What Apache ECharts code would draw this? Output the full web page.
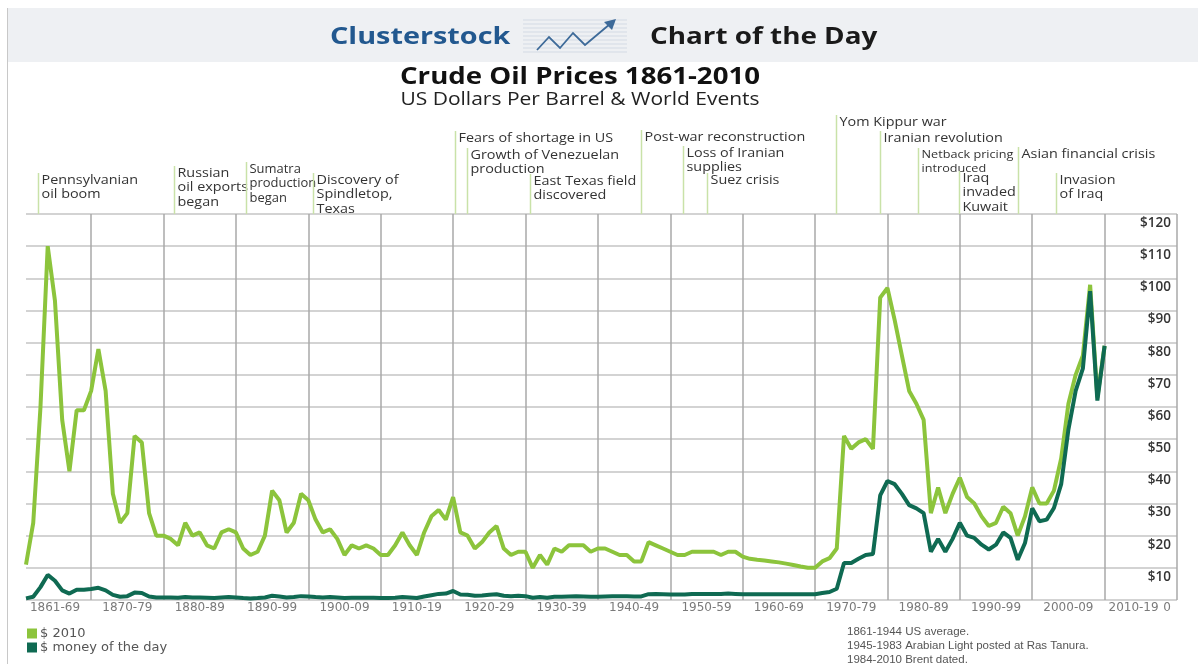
<!DOCTYPE html>
<html lang="en">
<head>
<meta charset="UTF-8">
<title>Crude Oil Prices 1861-2010</title>
<script src="https://cdn.jsdelivr.net/npm/echarts@6/dist/echarts.min.js"></script>
<style>
    html, body { margin: 0; padding: 0; background: #fff; }
    #main { width: 1198px; height: 664px; }
</style>
</head>
<body>
<div id="main"></div>
<script>
    // yearly prices, US$ per barrel, 1861..2010
    var firstYear = 1861;
    var axisEndYear = 2020;
    var price2010 = [
        11, 24, 60, 110, 93, 56, 40, 59, 59,
        65, 78, 65, 33, 24, 27, 51, 49, 27, 20,
        20, 19, 17, 24, 20, 21, 17, 16, 21, 22,
        21, 16, 14, 15, 20, 34, 31, 21, 24, 33,
        31, 25, 21, 22, 19, 14, 17, 16, 17, 16,
        14, 14, 17, 21, 17, 14, 21, 26, 28, 25,
        32, 21, 20, 16, 18, 21, 23, 16, 14, 15,
        15, 10, 14, 11, 16, 15, 17, 17, 17, 15,
        16, 16, 15, 14, 14, 12, 12, 18, 17, 16,
        15, 14, 14, 15, 15, 15, 15, 14, 15, 15,
        13.5, 12.8, 12.5, 12.3, 12, 11.7, 11.3, 10.9, 10.4, 10,
        10, 12, 13, 16, 51, 47, 49, 50, 47, 94,
        97, 87, 76, 65, 61, 56, 27, 35, 27, 33,
        38, 32, 30, 26, 23, 24, 29, 27, 20, 26,
        35, 30, 30, 34, 44, 61, 70, 76, 98, 63,
        79
    ];
    var priceNominal = [
        0.5, 1, 4, 7.8, 6, 3, 2, 3.2, 3.2,
        3.4, 3.8, 3, 1.6, 1, 1.2, 2.3, 2.2, 1.1, 0.8,
        0.8, 0.8, 0.7, 0.9, 0.8, 0.8, 0.7, 0.6, 0.8, 0.9,
        0.8, 0.6, 0.5, 0.6, 0.8, 1.3, 1.1, 0.8, 0.9, 1.2,
        1.1, 0.9, 0.8, 0.9, 0.8, 0.6, 0.7, 0.7, 0.7, 0.7,
        0.6, 0.6, 0.7, 0.9, 0.8, 0.6, 1.1, 1.5, 1.9, 2,
        2.8, 1.7, 1.6, 1.3, 1.4, 1.6, 1.8, 1.3, 1.2, 1.3,
        1.2, 0.7, 0.9, 0.7, 1, 1, 1.1, 1.2, 1.1, 1,
        1, 1.1, 1.2, 1.2, 1.2, 1.1, 1.1, 1.8, 1.9, 1.8,
        1.7, 1.7, 1.7, 1.9, 1.9, 1.9, 1.9, 1.9, 2, 1.9,
        1.8, 1.8, 1.8, 1.8, 1.8, 1.8, 1.8, 1.8, 1.8, 1.8,
        1.8, 2.2, 2.5, 3.5, 11.5, 11.5, 12.8, 14, 14.3, 32.5,
        37, 36, 33, 29.5, 28.5, 27, 15, 19, 15, 19,
        24, 20, 19.3, 17.2, 15.7, 17.2, 21, 19.3, 12.5, 17.7,
        28.5, 24.5, 25, 28.6, 36, 53, 65, 72, 96, 62,
        79
    ];
    var decadeLabels = ['1861-69', '1870-79', '1880-89', '1890-99', '1900-09', '1910-19', '1920-29', '1930-39',
        '1940-49', '1950-59', '1960-69', '1970-79', '1980-89', '1990-99', '2000-09', '2010-19'];

    var eventYears = [1862.7, 1881.4, 1891.4, 1900.6, 1920.3, 1921.9, 1930.6, 1945.9,
        1951.7, 1955.1, 1972.9, 1979, 1984.2, 1989.9, 1998, 2003.3];
    var eventLabels = [
        'Pennsylvanian\noil boom', 'Russian\noil exports\nbegan', 'Sumatra\nproduction\nbegan',
        'Discovery of\nSpindletop,\nTexas', 'Fears of shortage in US', 'Growth of Venezuelan\nproduction',
        'East Texas field\ndiscovered', 'Post-war reconstruction', 'Loss of Iranian\nsupplies',
        'Suez crisis', 'Yom Kippur war', 'Iranian revolution', 'Netback pricing\nintroduced',
        'Iraq\ninvaded\nKuwait', 'Asian financial crisis', 'Invasion\nof Iraq'
    ];
    // layout only: top of each event label and its font size, px
    var eventTops = [173, 166, 162, 173, 131, 148, 174, 130, 146, 173, 115, 131, 148, 171, 147, 173];
    var eventFonts = [12.5, 12.5, 12, 12.5, 12.5, 12.5, 12.5, 12.5, 12.5, 12.5, 12.5, 12.5, 11, 12.5, 12.5, 12.5];

    var years = [];
    for (var y = firstYear; y <= axisEndYear; y++) {
        years.push(String(y));
    }

    var chart = echarts.init(document.getElementById('main'));
    var option = {
        animation: false,
        legend: {
            data: ['$ 2010', '$ money of the day'],
            orient: 'vertical',
            left: 22,
            top: 622,
            icon: 'rect',
            itemWidth: 10,
            itemHeight: 10,
            itemGap: 1,
            textStyle: { fontFamily: 'DejaVu Sans', fontSize: 13, color: '#555', padding: [0, 0, 0, -2] }
        },
        grid: { left: 26, right: 21, top: 214, bottom: 64 },
        xAxis: [{
            type: 'category',
            data: years,
            boundaryGap: false,
            axisLine: { show: false },
            axisTick: { show: false },
            splitLine: {
                show: true,
                interval: function (i, v) { return (+v) % 10 === 0; },
                lineStyle: { color: '#a8a8a8', width: 1.5 }
            },
            axisLabel: {
                // decade labels sit mid-decade; the last one is nudged left as in the original
                interval: function (i, v) { return (+v) % 10 === ((+v) > 2009 ? 4 : 5); },
                formatter: function (v) { return decadeLabels[Math.floor((+v - 1860) / 10)]; },
                margin: 2,
                fontFamily: 'DejaVu Sans',
                fontSize: 12,
                color: '#7a7a7a'
            }
        }, {
            type: 'value',
            min: firstYear,
            max: axisEndYear,
            show: false
        }],
        yAxis: {
            type: 'value',
            position: 'right',
            min: 0,
            max: 120,
            interval: 10,
            axisLine: { show: false },
            axisTick: { show: false },
            splitLine: { lineStyle: { color: '#c4c4c4', width: 1.5 } },
            axisLabel: {
                inside: true,
                margin: 6,
                verticalAlign: 'top',
                padding: [2, 0, 0, 0],
                fontFamily: 'Open Sans',
                fontWeight: 600,
                fontSize: 13.5,
                color: '#333',
                formatter: function (v) { return v === 0 ? '{z|0}' : '$' + v; },
                rich: { z: { fontFamily: 'DejaVu Sans', fontSize: 12, color: '#7a7a7a', fontWeight: 'normal' } }
            }
        },
        series: [{
            name: '$ 2010',
            type: 'line',
            data: price2010,
            showSymbol: false,
            lineStyle: { width: 4, color: '#8cc43c' },
            itemStyle: { color: '#8cc43c' }
        }, {
            name: '$ money of the day',
            type: 'line',
            data: priceNominal,
            showSymbol: false,
            lineStyle: { width: 4, color: '#0f6a52' },
            itemStyle: { color: '#0f6a52' }
        }]
    };
    chart.setOption(option);

    // header band, logo, titles, annotations and notes (the source image is a little stretched sideways)
    var gridTop = chart.convertToPixel({ yAxisIndex: 0 }, 120);
    var graphics = [
        { type: 'rect', shape: { x: 7, y: 8, width: 1191, height: 54 }, style: { fill: '#eef0f3' }, z: -1 },
        { type: 'line', shape: { x1: 7.5, y1: 8, x2: 7.5, y2: 664 }, style: { stroke: '#c8c8c8', lineWidth: 1 } },
        { type: 'text', x: 330, y: 37, scaleX: 1.2, style: { text: 'Clusterstock', font: 'bold 24px "Open Sans"', fill: '#22588f', verticalAlign: 'middle' } },
        { type: 'text', x: 650, y: 37, scaleX: 1.16, style: { text: 'Chart of the Day', font: 'bold 24px "Open Sans"', fill: '#1a1a1a', verticalAlign: 'middle' } },
        { type: 'text', x: 580, y: 77, scaleX: 1.2, style: { text: 'Crude Oil Prices 1861-2010', font: 'bold 23px "Open Sans"', fill: '#111', align: 'center', verticalAlign: 'middle' } },
        { type: 'text', x: 580, y: 100, scaleX: 1.2, style: { text: 'US Dollars Per Barrel & World Events', font: '17.5px "Open Sans"', fill: '#222', align: 'center', verticalAlign: 'middle' } },
        { type: 'text', x: 847, y: 625, style: {
            text: '1861-1944 US average.\n1945-1983 Arabian Light posted at Ras Tanura.\n1984-2010 Brent dated.',
            font: '11.5px "Liberation Sans"', fill: '#555', lineHeight: 14 } }
    ];
    // logo: ruled box with a rising zigzag arrow
    for (var k = 0; k < 9; k++) {
        graphics.push({ type: 'line', shape: { x1: 523, y1: 20 + k * 4, x2: 627, y2: 20 + k * 4 },
            style: { stroke: '#d3dae4', lineWidth: 1 } });
    }
    graphics.push({ type: 'polyline', shape: { points: [[537, 50], [549, 37], [560, 48], [573, 33], [585, 45], [610, 24]] },
        style: { stroke: '#3d6a99', lineWidth: 1.8, fill: null } });
    graphics.push({ type: 'polygon', shape: { points: [[616, 19], [604, 22], [612, 30]] }, style: { fill: '#3d6a99' } });

    eventYears.forEach(function (yr, i) {
        var x = Math.round(chart.convertToPixel({ xAxisIndex: 1 }, yr)) + 0.5;
        var top = eventTops[i];
        var fs = eventFonts[i];
        graphics.push({ type: 'line', shape: { x1: x, y1: top, x2: x, y2: gridTop },
            style: { stroke: '#c9e2a8', lineWidth: 1.5 } });
        graphics.push({ type: 'text', x: x + 3, y: top, scaleX: fs === 12 ? 1.08 : 1.15, style: {
            text: eventLabels[i], font: fs + 'px "Open Sans"',
            fill: '#333', lineHeight: fs < 12 ? 14 : 14.5 } });
    });
    chart.setOption({ graphic: graphics });
</script>
</body>
</html>
